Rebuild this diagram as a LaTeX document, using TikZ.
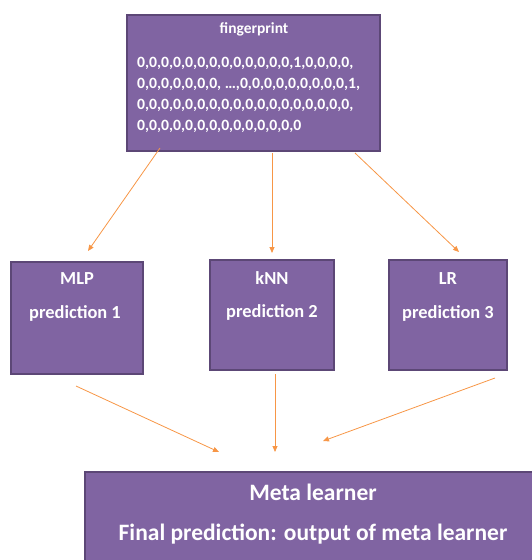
\documentclass[tikz,border=0pt]{standalone}
\usepackage{fontspec}
\setmainfont{Carlito}
\usetikzlibrary{arrows.meta}
\definecolor{boxfill}{HTML}{8064A2}
\definecolor{boxline}{HTML}{5C4776}
\definecolor{arr}{HTML}{F79646}
\begin{document}
\begin{tikzpicture}[x=1pt,y=-1pt,
  box/.style={draw=boxline,line width=1.2pt,fill=boxfill},
  lbl/.style={text=white,inner sep=0pt,anchor=base},
  bitsline/.style={text=white,inner sep=0pt,anchor=base west,font=\bfseries\fontsize{15.7}{19}\selectfont},
  mid/.style={font=\bfseries\fontsize{18.4}{22}\selectfont},
  conn/.style={draw=arr,line width=0.8pt,-{Triangle[length=6pt,width=5pt]}}]
\useasboundingbox (0,0) rectangle (532,560);
\begin{scope}
\clip (0,0) rectangle (532,560);
\path[box] (127,15) rectangle (380,151);
\node[lbl,font=\bfseries\fontsize{15.5}{18}\selectfont] (fpt) at (254,33) {fingerprint};
\node[bitsline] (l1) at (137,67) {0,0,0,0,0,0,0,0,0,0,0,0,0,1,0,0,0,0,};
\node[bitsline] (l2) at (137,88) {0,0,0,0,0,0,0, …,0,0,0,0,0,0,0,0,0,1,};
\node[bitsline] (l3) at (137,109) {0,0,0,0,0,0,0,0,0,0,0,0,0,0,0,0,0,0,};
\node[bitsline] (l4) at (137,130) {0,0,0,0,0,0,0,0,0,0,0,0,0,0};
\path[box] (11,262) rectangle (143,374);
\path[box] (210,260) rectangle (334,370);
\path[box] (389,260) rectangle (507,370);
\path[box] (85,472) rectangle (540,570);
\node[lbl,mid] (mlp) at (77,284) {MLP};
\node[lbl,mid] (p1) at (75,318) {prediction 1};
\node[lbl,mid] (knn) at (272,284) {kNN};
\node[lbl,mid] (p2) at (272,317) {prediction 2};
\node[lbl,mid] (lr) at (448,284) {LR};
\node[lbl,mid] (p3) at (448,318) {prediction 3};
\node[lbl,font=\bfseries\fontsize{23.5}{28}\selectfont] (meta) at (313,500) {Meta learner};
\node[lbl,font=\bfseries\fontsize{23.5}{28}\selectfont] (final) at (313,540) {Final prediction: output of meta learner};
\end{scope}
\coordinate (a1s) at (160,148); \coordinate (a1e) at (88,251);
\coordinate (a2s) at (272,153); \coordinate (a2e) at (272,253);
\coordinate (a3s) at (355,153); \coordinate (a3e) at (459,252);
\coordinate (b1s) at (76,386); \coordinate (b1e) at (219,452);
\coordinate (b2s) at (275,374); \coordinate (b2e) at (275,452);
\coordinate (b3s) at (495,378); \coordinate (b3e) at (323,441);
\draw[conn] (a1s) -- (a1e);
\draw[conn] (a2s) -- (a2e);
\draw[conn] (a3s) -- (a3e);
\draw[conn] (b1s) -- (b1e);
\draw[conn] (b2s) -- (b2e);
\draw[conn] (b3s) -- (b3e);
\end{tikzpicture}
\end{document}
